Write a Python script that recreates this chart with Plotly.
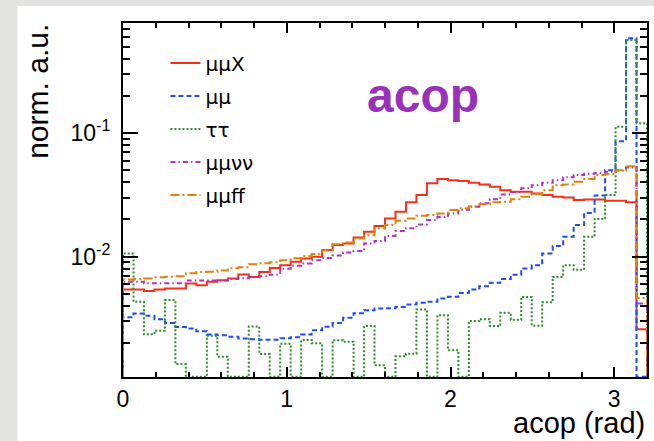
import plotly.graph_objects as go

# ---- data ----
BIN_WIDTH = 0.064
N_BINS = 50
X_MAX = 3.2

MUMUX = [0.00542, 0.00542, 0.00528, 0.00542, 0.00552, 0.00552, 0.00607, 0.00588, 0.00625, 0.00645,
         0.00666, 0.00717, 0.00686, 0.00753, 0.0081, 0.0085, 0.0091, 0.00967, 0.0100, 0.0113,
         0.0124, 0.0128, 0.0143, 0.0159, 0.0177, 0.0204, 0.0231, 0.0275, 0.0315, 0.0392,
         0.0425, 0.0416, 0.0409, 0.0396, 0.0384, 0.0368, 0.0345, 0.0335, 0.0335, 0.0325,
         0.0315, 0.0305, 0.0301, 0.0287, 0.0290, 0.0290, 0.0283, 0.0283, 0.0275, 0.00258]

MUMU = [0.00324, 0.00347, 0.00333, 0.00312, 0.00290, 0.00269, 0.00262, 0.00249, 0.00234, 0.00231,
        0.00225, 0.00218, 0.00215, 0.00213, 0.00213, 0.00219, 0.00223, 0.00234, 0.00254, 0.00271,
        0.00290, 0.00321, 0.00349, 0.00369, 0.00381, 0.00383, 0.00392, 0.00410, 0.00423, 0.00432,
        0.00459, 0.00473, 0.00509, 0.00542, 0.00577, 0.00614, 0.00658, 0.00715, 0.00802, 0.00853,
        0.0106, 0.0122, 0.0145, 0.0180, 0.0226, 0.0312, 0.0500, 0.0860, 0.585, 0.0]

TAUTAU = [0.01062, 0.00431, 0.00235, 0.00251, 0.00445, 0.00135, 0.0, 0.0, 0.00229, 0.00155,
          0.0, 0.0, 0.00272, 0.00163, 0.0, 0.00197, 0.0, 0.00212, 0.00199, 0.0,
          0.00211, 0.00205, 0.0, 0.00274, 0.00132, 0.0, 0.00156, 0.00164, 0.00374, 0.0,
          0.00336, 0.00175, 0.0, 0.00301, 0.00312, 0.00274, 0.00351, 0.00309, 0.00472, 0.00276,
          0.00427, 0.00686, 0.00853, 0.00783, 0.01446, 0.0202, 0.0315, 0.1125, 0.566, 0.120]

MUMUNUNU = [0.00625, 0.00625, 0.0061, 0.0061, 0.0061, 0.0061, 0.0064, 0.0064, 0.0064, 0.0064,
            0.00658, 0.0067, 0.0068, 0.00695, 0.00715, 0.0080, 0.00846, 0.00881, 0.00937, 0.00973,
            0.0102, 0.0108, 0.0111, 0.0128, 0.0134, 0.0147, 0.0161, 0.0170, 0.0182, 0.0198,
            0.0209, 0.0223, 0.0240, 0.0254, 0.0271, 0.0291, 0.0318, 0.0333, 0.0357, 0.0379,
            0.0397, 0.0416, 0.0440, 0.0457, 0.0468, 0.0475, 0.0486, 0.0497, 0.0526, 0.00418]

MUMUFF = [0.00652, 0.0066, 0.00666, 0.0068, 0.00689, 0.00694, 0.00735, 0.00753, 0.00756, 0.00771,
          0.00807, 0.00822, 0.0087, 0.00885, 0.0090, 0.00937, 0.0097, 0.0101, 0.0105, 0.0112,
          0.0126, 0.0130, 0.0140, 0.0149, 0.0169, 0.0180, 0.0195, 0.0204, 0.0214, 0.0217,
          0.0224, 0.0238, 0.0246, 0.0256, 0.0266, 0.0275, 0.0278, 0.0292, 0.0305, 0.0320,
          0.0345, 0.0379, 0.0384, 0.0404, 0.0425, 0.0457, 0.0466, 0.0501, 0.0540, 0.00463]

SERIES = [
    ("μμX", MUMUX, "#f4301c", "solid"),
    ("μμ", MUMU, "#1f4cf5", "5px,3px"),
    ("ττ", TAUTAU, "#2a8c2a", "2px,2px"),
    ("μμνν", MUMUNUNU, "#b232c0", "5px,3px,1.5px,3px"),
    ("μμff", MUMUFF, "#e0830c", "9px,3px,2px,3px"),
]

Y_TICKS = [0.01, 0.1]
Y_TICKTEXT = ["10<sup>-2</sup>", "10<sup>-1</sup>"]
Y_MINOR = [m * d for d in (0.001, 0.01, 0.1) for m in range(2, 10)]
X_TICKS = [0, 1, 2, 3]

LOG_RANGE = [-2.974, -0.109]
FLOOR = 10 ** (LOG_RANGE[0] + 0.002)

edges = [round(i * BIN_WIDTH, 4) for i in range(N_BINS)]

fig = go.Figure()
for name, vals, color, dash in SERIES:
    xs = [0.0] + edges + [X_MAX]
    ys = [FLOOR] + [v if v > 0 else FLOOR for v in vals] + [FLOOR]
    fig.add_trace(go.Scatter(
        x=xs, y=ys, mode="lines", name=name, legendgroup=name,
        line=dict(color=color, width=2, dash=dash, shape="hv"),
        hoverinfo="skip",
    ))

FONT = "Liberation Sans, Arial, Helvetica, sans-serif"

fig.update_layout(
    width=654, height=441,
    margin=dict(l=123, r=5, t=23, b=64),
    paper_bgcolor="#e3e3e1",
    plot_bgcolor="white",
    font=dict(family=FONT, color="black"),
    showlegend=True,
    legend=dict(
        x=0.081, y=0.942, xanchor="left", yanchor="top",
        bgcolor="rgba(0,0,0,0)", font=dict(size=20, family="DejaVu Sans"),
        tracegroupgap=4, itemwidth=30,
    ),
    xaxis=dict(
        range=[0, X_MAX], tickvals=X_TICKS, ticktext=[str(t) for t in X_TICKS],
        ticks="inside", ticklen=10, tickwidth=1.5, tickcolor="black",
        minor=dict(dtick=0.2, tick0=0, ticks="inside", ticklen=5, tickwidth=1.5, tickcolor="black"),
        showline=True, linewidth=2, linecolor="black", mirror="ticks",
        showgrid=False, zeroline=False,
        tickfont=dict(size=23, family=FONT),
    ),
    yaxis=dict(
        type="log", range=LOG_RANGE,
        tickmode="array", tickvals=Y_TICKS, ticktext=Y_TICKTEXT,
        ticks="inside", ticklen=15, tickwidth=1.5, tickcolor="black",
        minor=dict(tickmode="array", tickvals=Y_MINOR, ticks="inside", ticklen=7,
                   tickwidth=1.5, tickcolor="black"),
        showline=True, linewidth=2, linecolor="black", mirror="ticks",
        showgrid=False, zeroline=False,
        tickfont=dict(size=23, family=FONT),
        ticklabelstandoff=6,
    ),
    shapes=[dict(type="rect", xref="paper", yref="paper",
                 x0=-0.2015, x1=1.1, y0=-0.3, y1=1.048,
                 fillcolor="white", line=dict(width=0), layer="below")],
    annotations=[
        dict(text="acop", x=(424.5 - 123) / 526, y=(377 - 95) / 354, xref="paper", yref="paper",
             xanchor="center", yanchor="middle", showarrow=False,
             font=dict(size=48, color="#9a31b9", family=FONT, weight="bold")),
        dict(text="acop (rad)", x=1.0, y=(377 - 423) / 354, xref="paper", yref="paper",
             xanchor="right", yanchor="middle", showarrow=False,
             font=dict(size=29, family=FONT)),
        dict(text="norm. a.u.", x=(37 - 123) / 526, y=(377 - 22) / 354, xref="paper", yref="paper",
             xanchor="center", yanchor="top", textangle=-90, showarrow=False,
             font=dict(size=30, family=FONT)),
    ],
)

fig.write_html("out.html")
